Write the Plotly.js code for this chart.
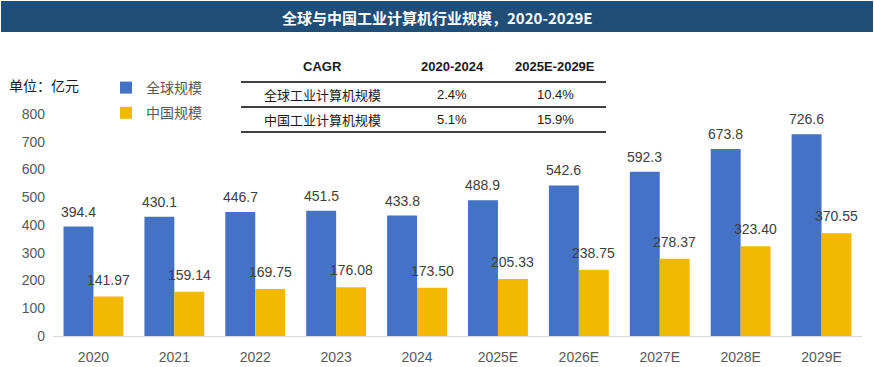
<!DOCTYPE html>
<html>
<head>
<meta charset="utf-8">
<script src="https://cdn.plot.ly/plotly-3.0.1.min.js"></script>
<style>html,body{margin:0;padding:0;background:#fff;}#chart{width:874px;height:367px;}</style>
</head>
<body>
<div id="chart"></div>
<script>
const categories = ["2020","2021","2022","2023","2024","2025E","2026E","2027E","2028E","2029E"];
const globalValues = [394.4,430.1,446.7,451.5,433.8,488.9,542.6,592.3,673.8,726.6];
const chinaValues = [141.97,159.14,169.75,176.08,173.50,205.33,238.75,278.37,323.40,370.55];
const seriesNames = ["全球规模","中国规模"];
const tableHeader = ["CAGR","2020-2024","2025E-2029E"];
const tableRows = [
  ["全球工业计算机规模","2.4%","10.4%"],
  ["中国工业计算机规模","5.1%","15.9%"]
];
const yTicks = [0,100,200,300,400,500,600,700,800];
const titleText = "全球与中国工业计算机行业规模，2020-2029E";
const unitText = "单位：亿元";

const W = 874, H = 367;
const L = 53, R = 12, T = 114, B = 31;
const pw = W - L - R, ph = H - T - B;
const px = x => (x - L) / pw;
const py = y => (H - B - y) / ph;

const FONT = "Liberation Sans, Arial, Noto Sans CJK SC, sans-serif";
const CJK = "Noto Sans CJK SC, Liberation Sans, sans-serif";

const traces = [
  {type:'bar', name:seriesNames[0], x:categories, y:globalValues, marker:{color:'#4472C4'}, legendgroup:'a', hoverinfo:'none'},
  {type:'bar', name:seriesNames[1], x:categories, y:chinaValues, marker:{color:'#F2B900'}, legendgroup:'b', hoverinfo:'none'}
];

const annotations = [];
categories.forEach((c,i)=>{
  annotations.push({x:i, y:globalValues[i], xref:'x', yref:'y', text:globalValues[i].toFixed(1), showarrow:false, xshift:-15, yshift:5, yanchor:'bottom', font:{family:FONT,size:14,color:'#404040'}});
  annotations.push({x:i, y:chinaValues[i], xref:'x', yref:'y', text:chinaValues[i].toFixed(2), showarrow:false, xshift:15, yshift:7, yanchor:'bottom', font:{family:FONT,size:14,color:'#404040'}});
});
// title
annotations.push({x:px(437), y:py(17), xref:'paper', yref:'paper', text:'<b>'+titleText+'</b>', showarrow:false, xanchor:'center', yanchor:'middle', font:{family:CJK,size:15,color:'#ffffff'}});
// unit
annotations.push({x:px(7), y:py(85), xref:'paper', yref:'paper', text:unitText, showarrow:false, xanchor:'left', yanchor:'middle', font:{family:CJK,size:14,color:'#1a1a1a'}});
// table
const colX = [322, 452, 555];
const rowY = [67, 94, 119];
tableHeader.forEach((h,j)=>{
  annotations.push({x:px(colX[j]), y:py(rowY[0]), xref:'paper', yref:'paper', text:'<b>'+h+'</b>', showarrow:false, xanchor:'center', yanchor:'middle', font:{family:FONT,size:13,color:'#1a1a1a'}});
});
tableRows.forEach((row,i)=>{
  row.forEach((v,j)=>{
    annotations.push({x:px(colX[j]), y:py(rowY[i+1]), xref:'paper', yref:'paper', text:v, showarrow:false, xanchor:'center', yanchor:'middle', font:{family:j===0?CJK:FONT,size:13,color:'#1a1a1a'}});
  });
});

const shapes = [
  {type:'rect', xref:'paper', yref:'paper', x0:px(1), x1:px(873), y0:py(1), y1:py(32), fillcolor:'#1F4E79', line:{width:0}, layer:'below'}
];
[82,107,132].forEach(y=>{
  shapes.push({type:'line', xref:'paper', yref:'paper', x0:px(241), x1:px(606), y0:py(y), y1:py(y), line:{color:'#000000', width:1.5}});
});

const layout = {
  width:W, height:H,
  margin:{l:L, r:R, t:T, b:B, pad:0},
  paper_bgcolor:'#ffffff', plot_bgcolor:'#ffffff',
  barmode:'group', bargap:0.26, bargroupgap:0,
  showlegend:true,
  legend:{x:px(106), y:py(72), xanchor:'left', yanchor:'top', font:{family:CJK,size:14,color:'#595959'}, tracegroupgap:4, bgcolor:'rgba(0,0,0,0)', itemclick:false},
  xaxis:{type:'category', range:[-0.5, categories.length-0.5], showline:true, linecolor:'#D9D9D9', linewidth:1, showgrid:false, ticks:'', tickfont:{family:FONT,size:14,color:'#595959'}, ticklabelstandoff:8, fixedrange:true},
  yaxis:{range:[0,800], tickvals:yTicks, showline:false, showgrid:false, zeroline:false, ticks:'', tickfont:{family:FONT,size:14,color:'#595959'}, ticklabelstandoff:7, fixedrange:true},
  annotations:annotations,
  shapes:shapes
};
Plotly.newPlot('chart', traces, layout, {displayModeBar:false, staticPlot:true});
</script>
</body>
</html>
